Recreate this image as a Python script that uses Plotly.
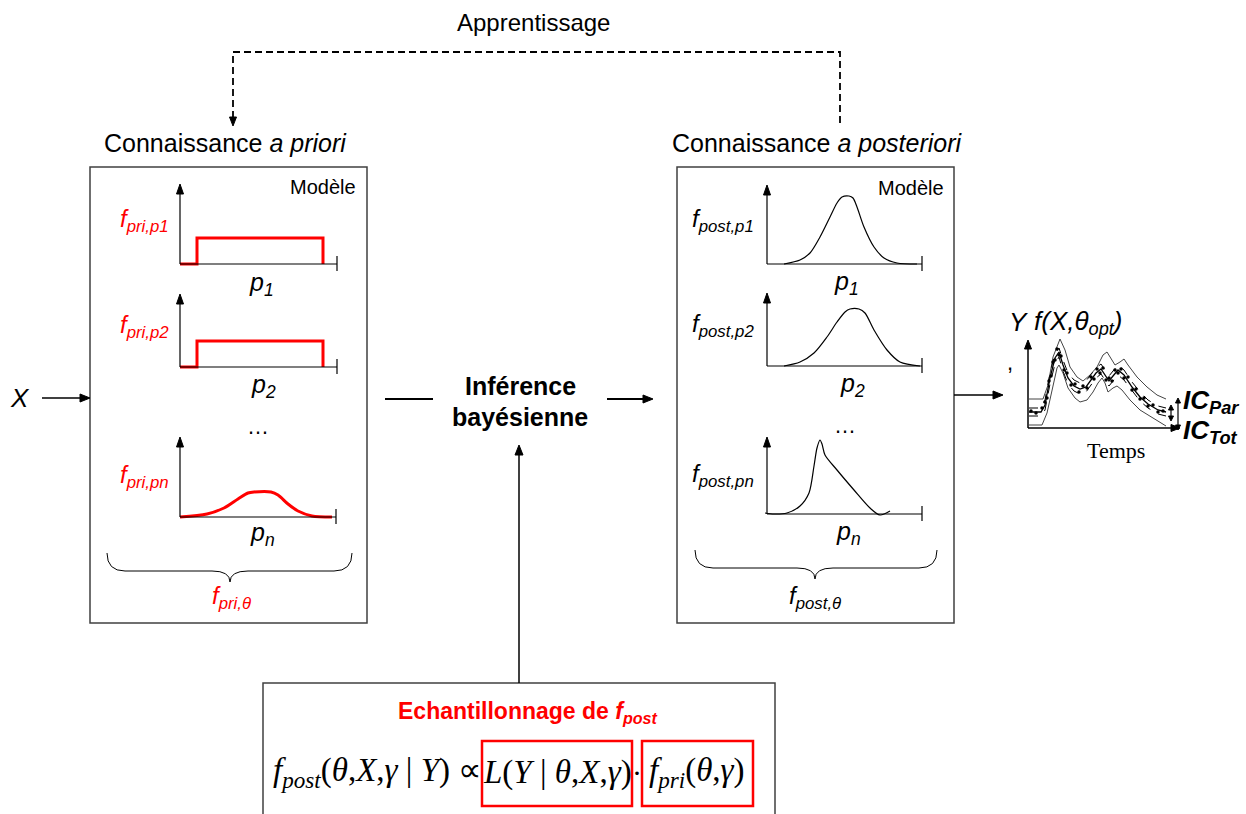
import plotly.graph_objects as go

W, H = 1246, 814

# ---- données des mini-graphes (unités locales : abscisse / ordonnée au-dessus de l'axe) ----
prior_step_t = [0, 17, 17, 143, 143]
prior_step_v = [0, 0, 26, 26, 0]

prior_n_t = [0, 27, 44, 58, 68, 74, 91, 98, 108, 118, 132, 152]
prior_n_v = [0, 3, 9, 18, 24, 25, 25, 22, 13, 6, 1, 0]

post_1_t = [17, 33, 43, 53, 63, 70, 75, 82, 86, 90, 97, 107, 117, 130, 150]
post_1_v = [0, 4, 11, 27, 47, 61, 67, 68, 66, 57, 37, 17, 6, 1, 0]

post_2_t = [17, 33, 47, 60, 70, 78, 83, 92, 98, 107, 120, 133, 153]
post_2_v = [0, 4, 13, 29, 44, 54, 57, 57, 53, 36, 16, 4, 0]

post_n_t = [-2, 7, 20, 33, 42, 47, 50, 53, 55, 58, 70, 87, 103, 113, 123]
post_n_v = [1, 0, 1, 8, 21, 48, 66, 74, 70, 59, 44, 24, 6, -1, 3]

# série temporelle : bornes IC_Tot, IC_Par, modèle optimal et observations
ts_tot_t = [1, 14, 19, 24, 29, 31, 35, 40, 47, 52, 59, 65, 70, 74, 77, 80, 85, 89, 94, 102, 112, 125, 138]
ts_tot_low = [3, 3, 15, 38, 60, 63, 55, 40, 30, 26, 28, 36, 45, 50, 45, 36, 40, 42, 38, 28, 18, 10, 2]
ts_up_t = [1, 15, 20, 25, 32, 37, 42, 49, 55, 62, 69, 75, 79, 83, 87, 92, 96, 100, 109, 119, 129, 138]
ts_tot_up = [29, 29, 43, 71, 89, 78, 61, 51, 47, 53, 61, 73, 76, 70, 63, 66, 69, 63, 51, 41, 33, 29]

ts_t = [1, 13, 17, 22, 27, 31, 35, 40, 46, 52, 58, 63, 68, 73, 77, 81, 85, 90, 96, 104, 112, 120, 130, 138]
ts_par_up = [20, 20, 28, 55, 74, 80, 68, 55, 48, 45, 47, 53, 60, 64, 58, 52, 57, 63, 58, 46, 36, 28, 22, 20]
ts_opt = [16, 16, 23, 50, 70, 76, 63, 50, 42, 39, 41, 48, 55, 59, 53, 47, 52, 58, 53, 41, 31, 24, 18, 16]
ts_par_low = [12, 12, 18, 44, 64, 71, 57, 44, 37, 34, 36, 43, 50, 54, 48, 42, 47, 53, 48, 37, 27, 20, 14, 12]

obs_t = [3, 8, 14, 17, 19, 21, 23, 25, 27, 29, 31, 33, 36, 39, 43, 47, 51, 55, 59, 63,
         66, 69, 72, 75, 78, 81, 84, 87, 90, 93, 96, 100, 104, 108, 112, 116, 120, 125, 130, 135]
obs_y = [17, 15, 20, 26, 30, 47, 52, 66, 68, 79, 73, 72, 58, 55, 43, 44, 36, 42, 40, 51,
         49, 59, 55, 60, 48, 50, 47, 58, 55, 59, 50, 51, 38, 39, 29, 30, 22, 23, 16, 17]

# ---- position des mini-graphes (origine x, ligne de base y, longueur, hauteur) en pixels ----
panels = {
    "pri1": (180, 264, 157, 80),
    "pri2": (180, 367, 157, 73),
    "prin": (180, 517, 156, 80),
    "post1": (767, 264, 155, 79),
    "post2": (767, 366, 155, 73),
    "postn": (767, 514, 155, 77),
    "ts": (1028, 428, 149, 88),
}

RED = "#ff0000"
SANS = "Liberation Sans"
SERIF = "Liberation Serif"

fig = go.Figure()
layout = dict(
    width=W, height=H, margin=dict(l=0, r=0, t=0, b=0),
    paper_bgcolor="white", plot_bgcolor="rgba(0,0,0,0)", showlegend=False,
    xaxis=dict(range=[0, W], domain=[0, 1], visible=False, fixedrange=True),
    yaxis=dict(range=[H, 0], domain=[0, 1], visible=False, fixedrange=True),
)

axis_ids = {}
for i, (name, (ox, base, ln, ht)) in enumerate(panels.items(), start=2):
    pad = 12
    layout[f"xaxis{i}"] = dict(domain=[(ox - pad) / W, (ox + ln + pad) / W], range=[-pad, ln + pad],
                               visible=False, anchor=f"y{i}", fixedrange=True)
    layout[f"yaxis{i}"] = dict(domain=[1 - (base + pad) / H, 1 - (base - ht - pad) / H],
                               range=[-pad, ht + pad], visible=False, anchor=f"x{i}", fixedrange=True)
    axis_ids[name] = (f"x{i}", f"y{i}")


def curve(panel, t, v, color="black", width=1.2, dash="solid", mode="lines", msize=0, shape="linear"):
    xa, ya = axis_ids[panel]
    fig.add_trace(go.Scatter(x=t, y=v, xaxis=xa, yaxis=ya, mode=mode,
                             line=dict(color=color, width=width, dash=dash, shape=shape, smoothing=0.8),
                             marker=dict(color=color, size=msize),
                             hoverinfo="skip"))


curve("pri1", prior_step_t, prior_step_v, RED, 3)
curve("pri2", prior_step_t, prior_step_v, RED, 3)
curve("prin", prior_n_t, prior_n_v, RED, 3, shape="spline")
curve("post1", post_1_t, post_1_v, shape="spline")
curve("post2", post_2_t, post_2_v, shape="spline")
curve("postn", post_n_t, post_n_v, shape="spline")

curve("ts", ts_up_t, ts_tot_up, "#444", 1)
curve("ts", ts_tot_t, ts_tot_low, "#444", 1)
curve("ts", ts_t, ts_par_up, "black", 1, "dash")
curve("ts", ts_t, ts_par_low, "black", 1, "dash")
curve("ts", ts_t, ts_opt, "black", 1.3)
curve("ts", obs_t, obs_y, "black", mode="markers", msize=3.5)

shapes = []
annotations = []


def line(x0, y0, x1, y1, color="black", width=1.5, dash="solid"):
    shapes.append(dict(type="line", x0=x0, y0=y0, x1=x1, y1=y1, xref="x", yref="y",
                       line=dict(color=color, width=width, dash=dash)))


def head(x, y, dx, dy, L=10, w=4):
    bx, by = x - dx * L, y - dy * L
    px, py = -dy * w, dx * w
    path = f"M {x},{y} L {bx + px},{by + py} L {bx - px},{by - py} Z"
    shapes.append(dict(type="path", path=path, xref="x", yref="y",
                       fillcolor="black", line=dict(color="black", width=1)))


def arrow(x0, y0, x1, y1, L=10, w=4, width=1.5, both=False):
    dx, dy = x1 - x0, y1 - y0
    n = (dx * dx + dy * dy) ** 0.5
    dx, dy = dx / n, dy / n
    line(x0 + (dx * L if both else 0), y0 + (dy * L if both else 0),
         x1 - dx * L * 0.8, y1 - dy * L * 0.8, width=width)
    head(x1, y1, dx, dy, L, w)
    if both:
        head(x0, y0, -dx, -dy, L, w)


def text(x, y, s, size=20, color="black", family=SANS, xanchor="center", yanchor="middle"):
    annotations.append(dict(x=x, y=y, xref="x", yref="y", text=s, showarrow=False,
                            font=dict(size=size, color=color, family=family),
                            xanchor=xanchor, yanchor=yanchor))


def rect(x0, y0, x1, y1, color="#404040", width=1.5):
    shapes.append(dict(type="rect", x0=x0, y0=y0, x1=x1, y1=y1, xref="x", yref="y",
                       line=dict(color=color, width=width)))


# boîtes
rect(90, 167, 367, 623)
rect(677, 167, 954, 623)
rect(263, 683, 775, 830)

# axes des mini-graphes
for name, (ox, base, ln, ht) in panels.items():
    if name == "ts":
        arrow(ox, base, ox, base - ht, L=9, w=3.5, width=1.5)
        arrow(ox, base, ox + ln + 3, base, L=9, w=3.5, width=1.5)
    else:
        arrow(ox, base, ox, base - ht, L=10, w=3.5, width=1.2)
        line(ox, base, ox + ln, base, width=1.2)
        line(ox + ln, base - 8, ox + ln, base + 7, width=1.2)


# accolades
def brace(x0, x1, ytop, ymid, ytip, xc):
    r = 18
    path = (f"M {x0},{ytop} Q {x0},{ymid} {x0 + r},{ymid} L {xc - r},{ymid} "
            f"Q {xc},{ymid} {xc},{ytip} Q {xc},{ymid} {xc + r},{ymid} "
            f"L {x1 - r},{ymid} Q {x1},{ymid} {x1},{ytop}")
    shapes.append(dict(type="path", path=path, xref="x", yref="y", line=dict(color="black", width=1)))


brace(107, 352, 553, 571, 582, 230)
brace(695, 937, 550, 568, 579, 815)

# boucle d'apprentissage (pointillés)
shapes.append(dict(type="path", path="M 233,118 L 233,52 L 840,52 L 840,125", xref="x", yref="y",
                   line=dict(color="black", width=1.8, dash="7px,4px")))
head(233, 126, 0, 1, L=9, w=3.5)

# flèches principales
arrow(42, 398, 90, 398)
line(385, 399, 433, 399, width=2)
arrow(607, 399, 653, 399, width=2)
arrow(519, 683, 519, 445)
arrow(954, 395, 1003, 395)

# intervalles de confiance
arrow(1171, 405, 1171, 421, L=5, w=2.5, width=1.2, both=True)
arrow(1178, 398, 1178, 430, L=5, w=2.5, width=1.2, both=True)

# formule, cadres rouges
rect(482, 741, 632, 806, color=RED, width=2.5)
rect(642, 741, 753, 806, color=RED, width=2.5)

# ---- textes ----
text(533, 22, "Apprentissage", 24)
text(225, 143, "Connaissance <i>a priori</i>", 25)
text(817, 143, "Connaissance <i>a posteriori</i>", 25)
text(358, 187, "Modèle", 20, xanchor="right")
text(946, 188, "Modèle", 20, xanchor="right")

pri_labels = ["<i>f<sub>pri,p1</sub></i>", "<i>f<sub>pri,p2</sub></i>", "<i>f<sub>pri,pn</sub></i>"]
post_labels = ["<i>f<sub>post,p1</sub></i>", "<i>f<sub>post,p2</sub></i>", "<i>f<sub>post,pn</sub></i>"]
p_labels = ["<i>p<sub>1</sub></i>", "<i>p<sub>2</sub></i>", "<i>p<sub>n</sub></i>"]

for lab, y in zip(pri_labels, [220, 326, 476]):
    text(171, y, lab, 24, RED, xanchor="right")
for lab, y in zip(post_labels, [220, 325, 475]):
    text(756, y, lab, 24, xanchor="right")
for lab, x, y in zip(p_labels, [261, 263, 262], [284, 386, 534]):
    text(x, y, lab, 25)
for lab, x, y in zip(p_labels, [846, 852, 848], [283, 385, 533]):
    text(x, y, lab, 25)

text(258, 426, "…", 22)
text(845, 425, "…", 22)
text(231, 597, "<i>f<sub>pri,θ</sub></i>", 24, RED)
text(815, 597, "<i>f<sub>post,θ</sub></i>", 24)

text(20, 398, "<i>X</i>", 26)
text(520, 386, "<b>Inférence</b>", 25)
text(520, 417, "<b>bayésienne</b>", 25)

text(1018, 322, "<i>Y</i>", 26)
text(1032, 322, "<i>f(X,θ<sub>opt</sub>)</i>", 26, xanchor="left")
text(1010, 362, ",", 22)
text(1181, 401, "<b><i>IC<sub>Par</sub></i></b>", 26, xanchor="left")
text(1181, 431, "<b><i>IC<sub>Tot</sub></i></b>", 26, xanchor="left")
text(1116, 450, "Temps", 22, family=SERIF)

text(528, 712, "<b>Echantillonnage de <i>f<sub>post</sub></i></b>", 23, RED)
text(271, 772, "<i>f</i><sub><i>post</i></sub>(<i>θ</i>,<i>X</i>,<i>γ</i> | <i>Y</i>) ∝", 33, family=SERIF,
     xanchor="left")
text(557, 772, "<i>L</i>(<i>Y</i> | <i>θ</i>,<i>X</i>,<i>γ</i>)", 33, family=SERIF)
text(637, 772, "·", 30, family=SERIF)
text(697, 772, "<i>f</i><sub><i>pri</i></sub>(<i>θ</i>,<i>γ</i>)", 33, family=SERIF)

layout["shapes"] = shapes
layout["annotations"] = annotations
fig.update_layout(**layout)

fig.write_html("out.html", config={"displayModeBar": False},
               post_script="document.body.style.margin='0';")
